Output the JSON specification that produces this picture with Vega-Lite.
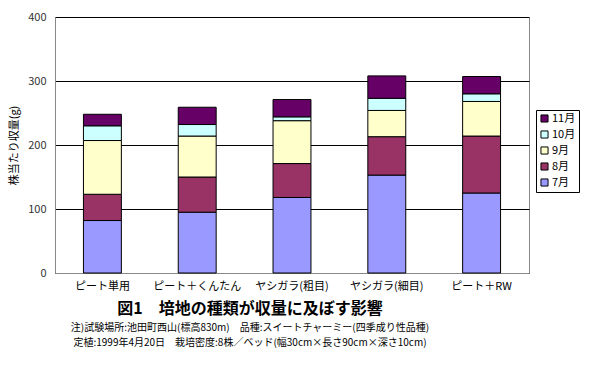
{
  "$schema": "https://vega.github.io/schema/vega-lite/v6.json",
  "autosize": {"type": "none"},
  "width": 474,
  "height": 256,
  "padding": {"left": 55, "top": 17, "right": 71, "bottom": 100},
  "background": "white",
  "config": {
    "font": "Noto Sans CJK JP",
    "view": {"stroke": "#888888", "strokeWidth": 1}
  },
  "title": {
    "text": "図1　培地の種類が収量に及ぼす影響",
    "subtitle": ["注)試験場所:池田町西山(標高830m)　品種:スイートチャーミー(四季成り性品種)", "定植:1999年4月20日　栽培密度:8株／ベッド(幅30cm×長さ90cm×深さ10cm)"],
    "orient": "bottom",
    "anchor": "middle",
    "frame": "group",
    "dx": -42,
    "offset": 10,
    "fontSize": 16,
    "fontWeight": "bold",
    "color": "#000000",
    "subtitleFontSize": 10,
    "subtitleLineHeight": 15,
    "subtitleColor": "#000000",
    "subtitlePadding": 6
  },
  "data": {
    "values": [
      {"medium": "ピート単用", "month": "7月", "m": 1, "yield": 82},
      {"medium": "ピート単用", "month": "8月", "m": 2, "yield": 41},
      {"medium": "ピート単用", "month": "9月", "m": 3, "yield": 84},
      {"medium": "ピート単用", "month": "10月", "m": 4, "yield": 23},
      {"medium": "ピート単用", "month": "11月", "m": 5, "yield": 18},
      {"medium": "ピート＋くんたん", "month": "7月", "m": 1, "yield": 95},
      {"medium": "ピート＋くんたん", "month": "8月", "m": 2, "yield": 55},
      {"medium": "ピート＋くんたん", "month": "9月", "m": 3, "yield": 64},
      {"medium": "ピート＋くんたん", "month": "10月", "m": 4, "yield": 18},
      {"medium": "ピート＋くんたん", "month": "11月", "m": 5, "yield": 27},
      {"medium": "ヤシガラ(粗目)", "month": "7月", "m": 1, "yield": 118},
      {"medium": "ヤシガラ(粗目)", "month": "8月", "m": 2, "yield": 53},
      {"medium": "ヤシガラ(粗目)", "month": "9月", "m": 3, "yield": 67},
      {"medium": "ヤシガラ(粗目)", "month": "10月", "m": 4, "yield": 6},
      {"medium": "ヤシガラ(粗目)", "month": "11月", "m": 5, "yield": 27},
      {"medium": "ヤシガラ(細目)", "month": "7月", "m": 1, "yield": 153},
      {"medium": "ヤシガラ(細目)", "month": "8月", "m": 2, "yield": 60},
      {"medium": "ヤシガラ(細目)", "month": "9月", "m": 3, "yield": 41},
      {"medium": "ヤシガラ(細目)", "month": "10月", "m": 4, "yield": 19},
      {"medium": "ヤシガラ(細目)", "month": "11月", "m": 5, "yield": 35},
      {"medium": "ピート＋RW", "month": "7月", "m": 1, "yield": 125},
      {"medium": "ピート＋RW", "month": "8月", "m": 2, "yield": 89},
      {"medium": "ピート＋RW", "month": "9月", "m": 3, "yield": 54},
      {"medium": "ピート＋RW", "month": "10月", "m": 4, "yield": 12},
      {"medium": "ピート＋RW", "month": "11月", "m": 5, "yield": 27}
    ]
  },
  "mark": {"type": "bar", "stroke": "#000000", "strokeWidth": 1},
  "encoding": {
    "x": {
      "field": "medium",
      "type": "nominal",
      "sort": null,
      "scale": {"paddingInner": 0.6, "paddingOuter": 0.3},
      "axis": {
        "title": null,
        "labelAngle": 0,
        "labelFontSize": 11,
        "labelColor": "#000000",
        "labelPadding": 7,
        "domainColor": "#888888",
        "ticks": false
      }
    },
    "y": {
      "field": "yield",
      "type": "quantitative",
      "stack": "zero",
      "scale": {"domain": [0, 400]},
      "axis": {
        "title": "株当たり収量(g)",
        "titleFontSize": 11,
        "titleFontWeight": "normal",
        "titleColor": "#000000",
        "titlePadding": 8,
        "values": [0, 100, 200, 300, 400],
        "labelFontSize": 11,
        "labelColor": "#333333",
        "labelPadding": 9,
        "ticks": false,
        "domainColor": "#888888",
        "grid": true,
        "gridColor": "#000000",
        "gridOpacity": 1
      }
    },
    "color": {
      "field": "month",
      "type": "nominal",
      "scale": {
        "domain": ["11月", "10月", "9月", "8月", "7月"],
        "range": ["#660066", "#CCFFFF", "#FFFFCC", "#993366", "#9999FF"]
      },
      "legend": {
        "title": null,
        "orient": "none",
        "legendX": 481,
        "legendY": 93,
        "symbolType": "square",
        "symbolSize": 50,
        "symbolStrokeColor": "#000000",
        "symbolStrokeWidth": 1,
        "labelFontSize": 11,
        "labelColor": "#000000",
        "rowPadding": 3,
        "padding": 3,
        "strokeColor": "#000000",
        "labelOffset": 2
      }
    },
    "order": {"field": "m", "type": "quantitative", "sort": "ascending"}
  }
}
